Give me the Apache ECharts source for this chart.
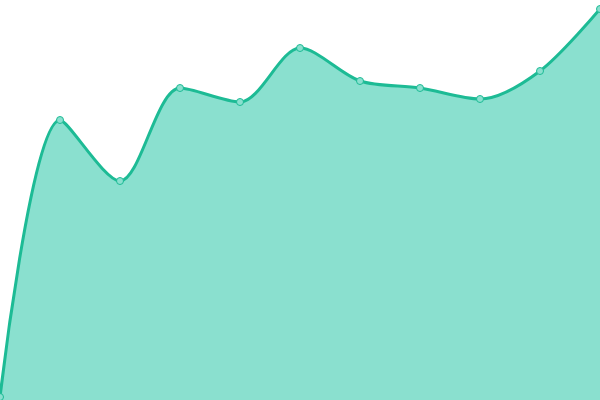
<!DOCTYPE html>
<html>
<head>
<meta charset="utf-8">
<script src="https://cdn.jsdelivr.net/npm/echarts@6/dist/echarts.min.js"></script>
<style>
  html, body { margin: 0; padding: 0; background: #fff; }
  #main { width: 600px; height: 400px; }
</style>
</head>
<body>
<div id="main"></div>
<script>
var categories = ['1', '2', '3', '4', '5', '6', '7', '8', '9', '10', '11'];
var values = [3, 280, 219, 312, 298, 352, 319, 312, 301, 329, 391];

var myChart = echarts.init(document.getElementById('main'));
var option = {
    animation: false,
    grid: { left: 0, right: 0, top: 0, bottom: 0 },
    xAxis: {
        type: 'category',
        boundaryGap: false,
        data: categories,
        show: false
    },
    yAxis: {
        type: 'value',
        min: 0,
        max: 400,
        show: false
    },
    series: [{
        type: 'line',
        smooth: 0.3,
        data: values,
        symbol: 'circle',
        symbolSize: 7,
        itemStyle: {
            color: '#8ae0cf',
            borderColor: '#1dbb95',
            borderWidth: 1
        },
        lineStyle: {
            color: '#1dbb95',
            width: 3
        },
        areaStyle: {
            color: '#8ae0cf',
            opacity: 1
        }
    }]
};
myChart.setOption(option);
</script>
</body>
</html>
